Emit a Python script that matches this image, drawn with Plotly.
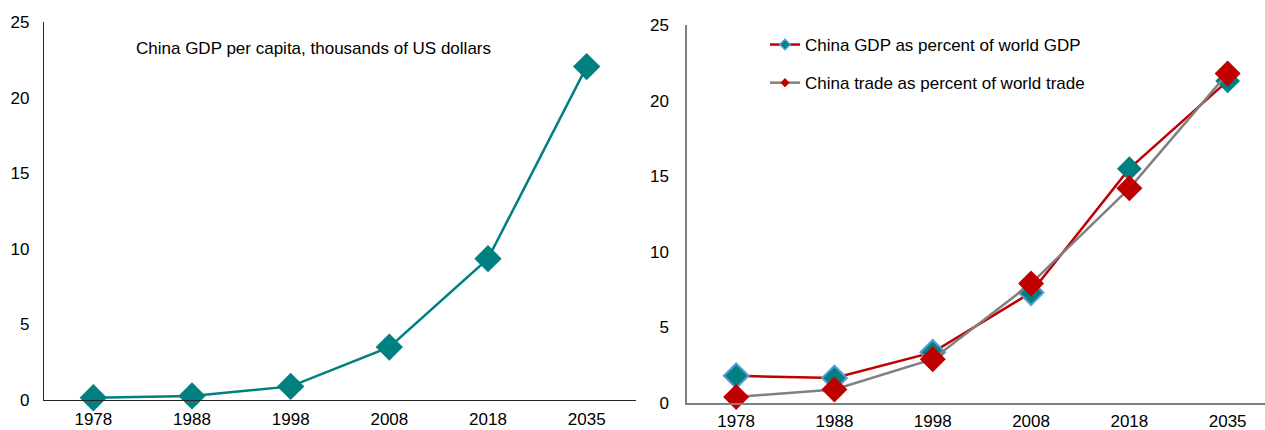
import plotly.graph_objects as go

years = ["1978", "1988", "1998", "2008", "2018", "2035"]
gdp_per_capita = [0.15, 0.27, 0.9, 3.5, 9.35, 22.05]
gdp_share = [1.8, 1.65, 3.35, 7.3, 15.5, 21.3]
trade_share = [0.4, 0.9, 2.9, 7.9, 14.2, 21.8]

TEAL = "#008080"
RED = "#C00000"
GRAY = "#808080"
BLUE = "#5B9BD5"
FONT = "Liberation Sans, Arial, sans-serif"
FS = 17

W, H = 1265, 430
fig = go.Figure()

fig.add_trace(go.Scatter(
    x=years, y=gdp_per_capita, mode="lines+markers", xaxis="x", yaxis="y",
    line=dict(color=TEAL, width=2.5),
    marker=dict(symbol="diamond", size=21, color=TEAL, line=dict(width=0)),
    cliponaxis=False, showlegend=False))

fig.add_trace(go.Scatter(
    x=years, y=gdp_share, mode="lines+markers", xaxis="x2", yaxis="y2",
    line=dict(color=RED, width=2.5),
    marker=dict(symbol="diamond", size=19, color=TEAL,
                line=dict(width=[2, 2, 2, 2, 0, 0], color=BLUE)),
    cliponaxis=False, showlegend=False))

fig.add_trace(go.Scatter(
    x=years, y=trade_share, mode="lines+markers", xaxis="x2", yaxis="y2",
    line=dict(color=GRAY, width=2.5),
    marker=dict(symbol="diamond", size=20, color=RED, line=dict(width=0)),
    cliponaxis=False, showlegend=False))

# legend entries
fig.add_trace(go.Scatter(
    x=[None], y=[None], mode="lines+markers", xaxis="x2", yaxis="y2",
    name="China GDP as percent of world GDP", legendgroup="a",
    line=dict(color=RED, width=2.5),
    marker=dict(symbol="diamond", size=8, color=TEAL, line=dict(width=1.5, color=BLUE))))
fig.add_trace(go.Scatter(
    x=[None], y=[None], mode="lines+markers", xaxis="x2", yaxis="y2",
    name="China trade as percent of world trade", legendgroup="b",
    line=dict(color=GRAY, width=2.5),
    marker=dict(symbol="diamond", size=7, color=RED, line=dict(width=0))))

tickfont = dict(family=FONT, size=FS, color="#000000")
common = dict(showgrid=False, zeroline=False, showline=True, ticks="",
              tickfont=tickfont, automargin=False)

fig.update_layout(
    width=W, height=H,
    margin=dict(l=0, r=0, t=0, b=0),
    paper_bgcolor="white", plot_bgcolor="white",
    font=dict(family=FONT, size=FS, color="#000000"),
    xaxis=dict(domain=[44 / W, 636 / W], type="category", range=[-0.5, 5.5],
               linecolor="#262626", linewidth=1.3, ticklabelstandoff=3, **common),
    yaxis=dict(domain=[30 / H, 408 / H], range=[0, 25], dtick=5,
               linecolor="#262626", linewidth=1.3, ticklabelstandoff=10, **common),
    xaxis2=dict(domain=[687 / W, 1.0], type="category", range=[-0.5, 5.38],
                anchor="y2", linecolor=GRAY, linewidth=1.5, ticklabelstandoff=2,
                **common),
    yaxis2=dict(domain=[27 / H, 405 / H], range=[0, 25], dtick=5, anchor="x2",
                linecolor=GRAY, linewidth=1.5, ticklabelstandoff=13, **common),
    legend=dict(x=765 / W, y=1 - 27 / H, xanchor="left", yanchor="top",
                bgcolor="rgba(0,0,0,0)", font=dict(family=FONT, size=FS, color="#000000"),
                traceorder="grouped", tracegroupgap=13),
    annotations=[dict(text="China GDP per capita, thousands of US dollars",
                      xref="paper", yref="paper", x=134 / W, y=1 - 48 / H,
                      xanchor="left", yanchor="middle", showarrow=False,
                      font=dict(family=FONT, size=FS, color="#000000"))],
)

fig.write_html("out.html")
